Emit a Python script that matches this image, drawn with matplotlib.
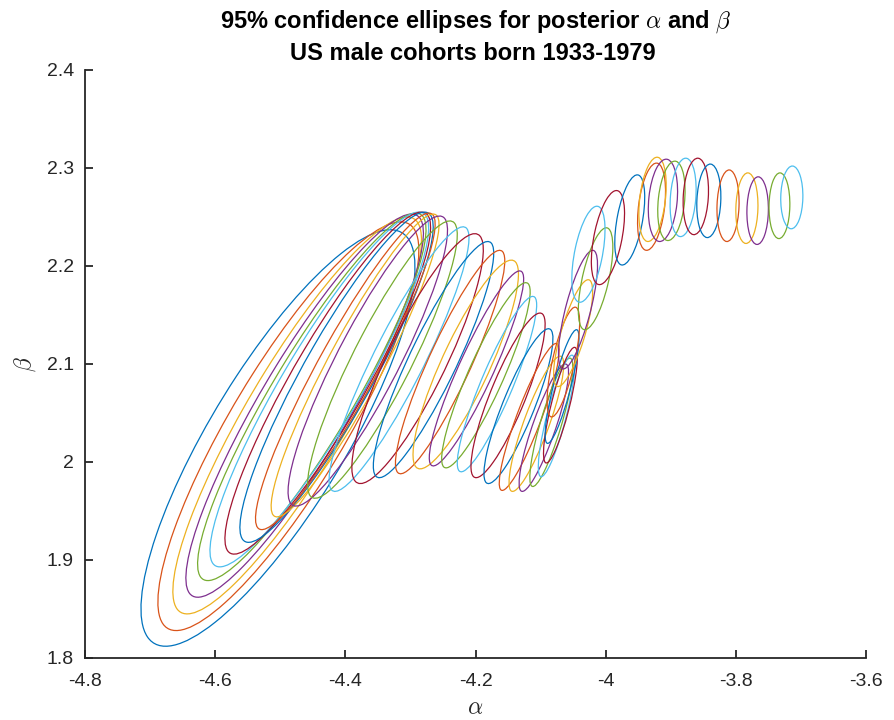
import numpy as np
import matplotlib
matplotlib.use("Agg")
import matplotlib.pyplot as plt
from matplotlib.patches import Ellipse

# Posterior 95% ellipses, one per cohort
# centre of alpha / beta, half extent in alpha / beta, correlation
alpha_c = [-4.5035, -4.4875, -4.474, -4.4625, -4.4515, -4.44, -4.427, -4.4135,
           -4.40, -4.385, -4.3655, -4.343, -4.3175, -4.289, -4.2645, -4.239,
           -4.215, -4.1985, -4.184, -4.167, -4.15, -4.134, -4.1175, -4.1065,
           -4.095, -4.0835, -4.0755, -4.0695, -4.067, -4.065, -4.05, -4.0425,
           -4.0155, -4.0265, -3.9965, -3.963, -3.9295, -3.928, -3.912, -3.899,
           -3.881, -3.8615, -3.8415, -3.812, -3.783, -3.7665, -3.733, -3.714]
beta_c = [2.0245, 2.0365, 2.0475, 2.0575, 2.0665, 2.074, 2.0805, 2.0865,
          2.0925, 2.0985, 2.103, 2.1045, 2.105, 2.1055, 2.1045, 2.102,
          2.0995, 2.0955, 2.0885, 2.0795, 2.068, 2.057, 2.046, 2.039,
          2.035, 2.0405, 2.047, 2.058, 2.077, 2.102, 2.1315, 2.1555,
          2.187, 2.212, 2.229, 2.247, 2.2605, 2.268, 2.267, 2.2665,
          2.27, 2.271, 2.2665, 2.2615, 2.259, 2.2565, 2.2615, 2.270]
alpha_half = [.2105, .2005, .191, .1825, .1755, .168, .158, .1485,
              .138, .129, .1225, .115, .1075, .101, .0925, .084,
              .081, .0725, .068, .061, .057, .053, .046, .042,
              .038, .033, .028, .026, .026, .025, .03, .03,
              .0265, .0255, .0255, .023, .0215, .021, .0225, .021,
              .02, .0195, .0185, .017, .017, .0165, .016, .017]
beta_half = [.2125, .2085, .2025, .1955, .1875, .181, .1745, .1685,
             .1615, .1545, .148, .1415, .135, .1275, .1205, .114,
             .1065, .0995, .0945, .0895, .084, .079, .075, .069,
             .065, .0655, .062, .059, .058, .056, .0545, .0605,
             .052, .049, .048, .046, .0445, .043, .042, .0405,
             .04, .039, .0375, .0365, .036, .0345, .0335, .032]
rho = [.82, .86, .885, .90, .91, .91, .91, .91,
       .93, .93, .90, .90, .915, .87, .90, .905,
       .865, .915, .90, .90, .86, .87, .90, .87,
       .87, .86, .84, .83, .85, .72, .77, .75,
       .62, .51, .51, .50, .35, .33, .22, .25,
       .20, .15, .12, .10, .08, .05, .05, .05]

colors = ['#0072BD', '#D95319', '#EDB120', '#7E2F8E', '#77AC30', '#4DBEEE', '#A2142F']

plt.rcParams['font.family'] = ['Liberation Sans', 'DejaVu Sans']
plt.rcParams['mathtext.fontset'] = 'cm'

fig = plt.figure(figsize=(8.95, 7.2), dpi=100)
ax = fig.add_axes([85 / 895, 62 / 720, 781 / 895, 588 / 720])

for i in range(len(alpha_c)):
    hx, hy, r = alpha_half[i], beta_half[i], rho[i]
    cov = np.array([[hx * hx, r * hx * hy], [r * hx * hy, hy * hy]])
    vals, vecs = np.linalg.eigh(cov)
    angle = np.degrees(np.arctan2(vecs[1, 1], vecs[0, 1]))
    e = Ellipse((alpha_c[i], beta_c[i]), 2 * np.sqrt(vals[1]), 2 * np.sqrt(vals[0]),
                angle=angle, fill=False, edgecolor=colors[i % 7], linewidth=0.9)
    ax.add_patch(e)

ax.set_xlim(-4.8, -3.6)
ax.set_ylim(1.8, 2.4)
ax.set_xticks([-4.8, -4.6, -4.4, -4.2, -4.0, -3.8, -3.6])
ax.set_xticklabels(['-4.8', '-4.6', '-4.4', '-4.2', '-4', '-3.8', '-3.6'])
ax.set_yticks([1.8, 1.9, 2.0, 2.1, 2.2, 2.3, 2.4])
ax.set_yticklabels(['1.8', '1.9', '2', '2.1', '2.2', '2.3', '2.4'])

ax.spines['top'].set_visible(False)
ax.spines['right'].set_visible(False)
for s in ['left', 'bottom']:
    ax.spines[s].set_color('#262626')
    ax.spines[s].set_linewidth(1.3)
ax.tick_params(direction='in', length=6, width=1.3, color='#262626',
               labelcolor='#262626', labelsize=14)
ax.tick_params(axis='x', pad=11)
ax.tick_params(axis='y', pad=8)

ax.set_xlabel(r'$\alpha$', fontsize=17, color='#262626', labelpad=5)
ax.set_ylabel(r'$\beta$', fontsize=17, color='#262626', labelpad=6)

fig.text(476 / 895, 1 - 22 / 720,
         r'95% confidence ellipses for posterior $\alpha$ and $\beta$',
         ha='center', va='center', fontsize=17, fontweight='bold', color='black')
fig.text(473 / 895, 1 - 53 / 720, 'US male cohorts born 1933-1979',
         ha='center', va='center', fontsize=17, fontweight='bold', color='black')

fig.savefig('out.png', dpi=100)
